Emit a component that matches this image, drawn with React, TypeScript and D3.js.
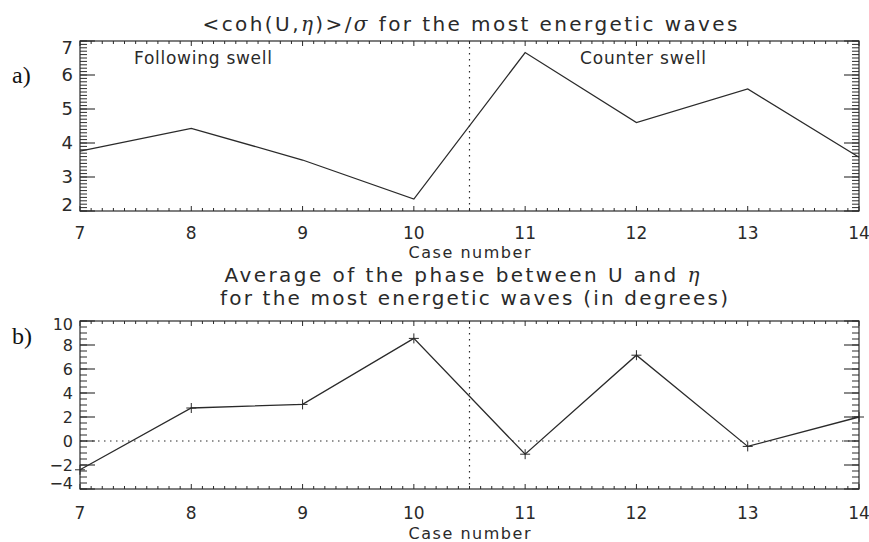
import React from "react";
import * as d3 from "d3";

const cases = [7, 8, 9, 10, 11, 12, 13, 14];
const cohValues = [3.76, 4.43, 3.5, 2.35, 6.66, 4.6, 5.59, 3.58];
const phaseValues = [-2.4, 2.75, 3.05, 8.55, -1.1, 7.15, -0.45, 2.0];
const cohTicks = [2, 3, 4, 5, 6, 7];
const phaseTicks = [-4, -2, 0, 2, 4, 6, 8, 10];
const xTicks = [7, 8, 9, 10, 11, 12, 13, 14];
const separator = 10.5;

const W = 869;
const H = 542;
const left = 80;
const right = 859;
const FONT = "DejaVu Sans, Verdana, sans-serif";
const INK = "#2a2a2a";

type PanelProps = {
  top: number;
  bottom: number;
  yDomain: [number, number];
  yTicks: number[];
  yMinorStep: number;
  yFont: number;
  topClamp: number;
  values: number[];
  markers: boolean;
  zeroLine: boolean;
  xLabelY: number;
  xTitleY: number;
};

function Panel(p: PanelProps) {
  const x = d3.scaleLinear().domain([7, 14]).range([left, right]);
  const y = d3.scaleLinear().domain(p.yDomain).range([p.bottom, p.top]);
  const line = d3
    .line<number>()
    .x((_, i) => x(cases[i]))
    .y((d) => y(d));
  const xMinor = d3.range(7, 14.0001, 0.1);
  const yMinor = d3.range(p.yDomain[0], p.yDomain[1] + 1e-6, p.yMinorStep);
  const majLen = 15;
  const minLen = 7;
  return (
    <g>
      <rect x={left} y={p.top} width={right - left} height={p.bottom - p.top} fill="none" stroke={INK} strokeWidth={1.2} />
      {xMinor.map((v, i) => {
        const isMaj = Math.abs(v - Math.round(v)) < 1e-6;
        const len = isMaj ? 5 : 3;
        return (
          <g key={"xm" + i}>
            <line x1={x(v)} x2={x(v)} y1={p.bottom} y2={p.bottom - len} stroke={INK} strokeWidth={1} />
            <line x1={x(v)} x2={x(v)} y1={p.top} y2={p.top + len} stroke={INK} strokeWidth={1} />
          </g>
        );
      })}
      {yMinor.map((v, i) => (
        <g key={"ym" + i}>
          <line x1={left} x2={left + minLen} y1={y(v)} y2={y(v)} stroke={INK} strokeWidth={1} />
          <line x1={right} x2={right - minLen} y1={y(v)} y2={y(v)} stroke={INK} strokeWidth={1} />
        </g>
      ))}
      {p.yTicks.map((v) => (
        <g key={"yM" + v}>
          <line x1={left} x2={left + majLen} y1={y(v)} y2={y(v)} stroke={INK} strokeWidth={1.1} />
          <line x1={right} x2={right - majLen} y1={y(v)} y2={y(v)} stroke={INK} strokeWidth={1.1} />
          <text
            x={left - 7}
            y={Math.min(Math.max(y(v), p.top + p.topClamp), p.bottom - 6)}
            dy="0.36em"
            textAnchor="end"
            fontSize={p.yFont}
            fontFamily={FONT}
            fill={INK}
          >
            {v < 0 ? "\u2212" + Math.abs(v) : String(v)}
          </text>
        </g>
      ))}
      {xTicks.map((v) => (
        <text key={"xl" + v} x={x(v)} y={p.xLabelY} textAnchor="middle" fontSize={17} fontFamily={FONT} fill={INK}>
          {v}
        </text>
      ))}
      <text x={(left + right) / 2} y={p.xTitleY} textAnchor="middle" fontSize={16} fontFamily={FONT} fill={INK} textLength={122} lengthAdjust="spacing">
        Case number
      </text>
      <line x1={x(separator)} x2={x(separator)} y1={p.top} y2={p.bottom} stroke={INK} strokeWidth={1.2} strokeDasharray="1.5,4.5" />
      {p.zeroLine && (
        <line x1={left} x2={right} y1={y(0)} y2={y(0)} stroke={INK} strokeWidth={1.2} strokeDasharray="1.5,4.5" />
      )}
      <path d={line(p.values) || ""} fill="none" stroke={INK} strokeWidth={1.3} />
      {p.markers &&
        p.values.map((v, i) => (
          <g key={"mk" + i}>
            <line x1={x(cases[i]) - 5} x2={x(cases[i]) + 5} y1={y(v)} y2={y(v)} stroke={INK} strokeWidth={1} />
            <line x1={x(cases[i])} x2={x(cases[i])} y1={y(v) - 5} y2={y(v) + 5} stroke={INK} strokeWidth={1} />
          </g>
        ))}
    </g>
  );
}

export default function App() {
  return (
    <svg width={W} height={H} style={{ position: "absolute", left: 0, top: 0, background: "#fff" }}>
      <rect x={0} y={0} width={W} height={H} fill="#fff" />
      <text x={470} y={31} textAnchor="middle" fontSize={20} fontFamily={FONT} fill={INK} textLength={535} lengthAdjust="spacing">
        {"<coh(U,"}
        <tspan fontStyle="italic" fontFamily="DejaVu Serif, serif">η</tspan>
        {")>/"}
        <tspan fontStyle="italic" fontFamily="DejaVu Serif, serif">σ</tspan>
        {" for the most energetic waves"}
      </text>
      <Panel
        top={41}
        bottom={211}
        yDomain={[2, 7]}
        yTicks={cohTicks}
        yMinorStep={0.1}
        yFont={18}
        topClamp={7}
        values={cohValues}
        markers={false}
        zeroLine={false}
        xLabelY={239}
        xTitleY={258}
      />
      <text x={134} y={64} fontSize={17} fontFamily={FONT} fill={INK} textLength={138} lengthAdjust="spacing">
        Following swell
      </text>
      <text x={580} y={64} fontSize={17} fontFamily={FONT} fill={INK} textLength={126} lengthAdjust="spacing">
        Counter swell
      </text>
      <text x={12} y={83} fontSize={24} fontFamily="Liberation Serif, Times New Roman, serif" fill="#111">
        a)
      </text>
      <text x={462} y={282} textAnchor="middle" fontSize={20} fontFamily={FONT} fill={INK} textLength={475} lengthAdjust="spacing">
        {"Average of the phase between U and "}
        <tspan fontStyle="italic" fontFamily="DejaVu Serif, serif">η</tspan>
      </text>
      <text x={474} y={305} textAnchor="middle" fontSize={20} fontFamily={FONT} fill={INK} textLength={508} lengthAdjust="spacing">
        for the most energetic waves (in degrees)
      </text>
      <Panel
        top={321}
        bottom={489}
        yDomain={[-4, 10]}
        yTicks={phaseTicks}
        yMinorStep={0.5}
        yFont={16}
        topClamp={3}
        values={phaseValues}
        markers={true}
        zeroLine={true}
        xLabelY={519}
        xTitleY={539}
      />
      <text x={12} y={344} fontSize={24} fontFamily="Liberation Serif, Times New Roman, serif" fill="#111">
        b)
      </text>
    </svg>
  );
}
